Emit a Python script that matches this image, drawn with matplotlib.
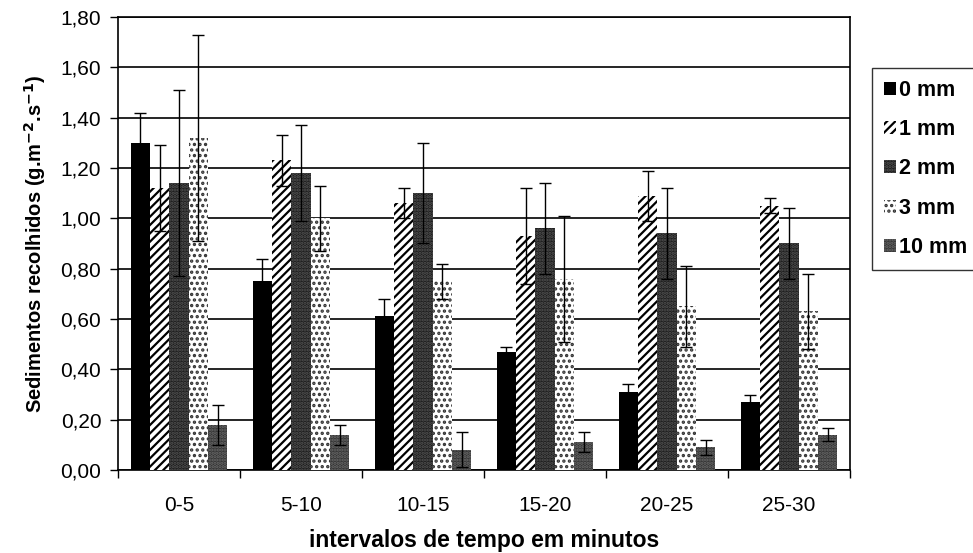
import matplotlib
matplotlib.use("Agg")
import matplotlib.pyplot as plt
import numpy as np
from matplotlib.ticker import FuncFormatter, MultipleLocator

categories = ["0-5", "5-10", "10-15", "15-20", "20-25", "25-30"]
series = ["0 mm", "1 mm", "2 mm", "3 mm", "10 mm"]

mm0 = [1.30, 0.75, 0.61, 0.47, 0.31, 0.27]
mm1 = [1.12, 1.23, 1.06, 0.93, 1.09, 1.05]
mm2 = [1.14, 1.18, 1.10, 0.96, 0.94, 0.90]
mm3 = [1.32, 1.00, 0.75, 0.76, 0.65, 0.63]
mm10 = [0.18, 0.14, 0.08, 0.11, 0.09, 0.14]

err0 = [0.12, 0.09, 0.07, 0.02, 0.03, 0.03]
err1 = [0.17, 0.10, 0.06, 0.19, 0.10, 0.03]
err2 = [0.37, 0.19, 0.20, 0.18, 0.18, 0.14]
err3 = [0.41, 0.13, 0.07, 0.25, 0.16, 0.15]
err10 = [0.08, 0.04, 0.07, 0.04, 0.03, 0.025]

plt.rcParams['font.family'] = ['Liberation Sans', 'DejaVu Sans']
plt.rcParams['hatch.linewidth'] = 1.6

values = [mm0, mm1, mm2, mm3, mm10]
errors = [err0, err1, err2, err3, err10]
faces = ['black', 'white', '#1c1c1c', 'white', '#333333']
hatches = [None, '////', '.....', '...', '.....']
hcolors = ['black', 'black', '#555555', '#333333', '#6a6a6a']

fig = plt.figure(figsize=(9.73, 5.53), dpi=100)
ax = fig.add_axes([118 / 973, 1 - 470 / 553, 732 / 973, 453 / 553])

x = np.arange(len(categories))
w = 0.79 / len(series)
handles = []
for i in range(len(series)):
    pos = x + (i - 2) * w
    b = ax.bar(pos, values[i], width=w, color=faces[i], hatch=hatches[i],
               edgecolor=hcolors[i], linewidth=0, zorder=3, label=series[i])
    ax.errorbar(pos, values[i], yerr=errors[i], fmt='none', ecolor='black',
                elinewidth=1, capsize=4, capthick=1, zorder=4)
    handles.append(b)

ax.set_xlim(-0.5, 5.5)
ax.set_ylim(0, 1.8)
ax.yaxis.set_major_locator(MultipleLocator(0.2))
ax.yaxis.set_major_formatter(FuncFormatter(lambda v, p: f"{v:.2f}".replace('.', ',')))
ax.grid(axis='y', color='black', linewidth=1.2, zorder=0)

ax.set_xticks(x)
ax.set_xticklabels(categories)
ax.set_xticks(np.arange(-0.5, 6, 1), minor=True)
ax.tick_params(axis='x', which='major', length=0, pad=19, labelsize=15)
ax.tick_params(axis='x', which='minor', length=6, width=1, direction='out')
ax.tick_params(axis='y', length=6, width=1, direction='out', labelsize=15, pad=6)

for s in ax.spines.values():
    s.set_linewidth(1.2)
    s.set_color('black')

ax.set_ylabel("Sedimentos recolhidos (g.m$^{\\mathbf{-2}}$.s$^{\\mathbf{-1}}$)",
              fontsize=14.5, fontweight='bold', labelpad=9)
ax.set_xlabel("intervalos de tempo em minutos", fontsize=16.5,
              fontweight='bold', labelpad=10)

leg = fig.legend(handles=handles, loc='upper left',
                 bbox_to_anchor=(872 / 973, 1 - 68 / 553),
                 frameon=True, fancybox=False, edgecolor='black',
                 prop={'size': 15.5, 'weight': 'bold'},
                 handlelength=0.55, handleheight=0.55,
                 handletextpad=0.15, labelspacing=0.85, borderpad=0.55,
                 borderaxespad=0)
leg.get_frame().set_linewidth(1)

fig.savefig("out.png", dpi=100)
